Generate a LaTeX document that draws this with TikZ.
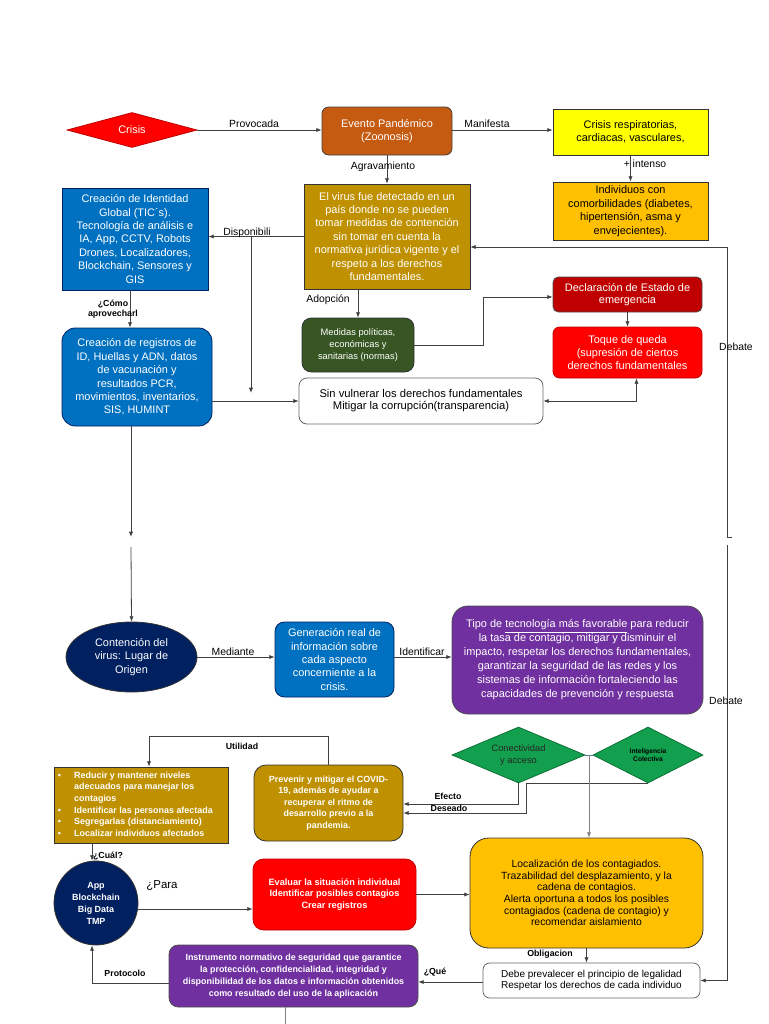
\documentclass[tikz,border=0pt]{standalone}
\usepackage{fontspec}
\setmainfont{Liberation Sans}
\usetikzlibrary{shapes.geometric,arrows.meta,calc}
\definecolor{cRed}{HTML}{FF0000}
\definecolor{cBrown}{HTML}{C55A11}
\definecolor{cYel}{HTML}{FFFF00}
\definecolor{cOra}{HTML}{FFC000}
\definecolor{cGold}{HTML}{BF9000}
\definecolor{cBlue}{HTML}{0070C0}
\definecolor{cGreen}{HTML}{375623}
\definecolor{cDRed}{HTML}{C00000}
\definecolor{cNavy}{HTML}{002060}
\definecolor{cPurp}{HTML}{7030A0}
\definecolor{cDia}{HTML}{12A04E}
\definecolor{cLine}{HTML}{404040}
\newcommand\fsz[2]{\fontsize{#1}{#2}\selectfont}
\begin{document}
\begin{tikzpicture}[x=0.75pt,y=-0.75pt,
  wh/.style 2 args={minimum width={#1*0.75pt},minimum height={#2*0.75pt}},
  box/.style={draw=black!80,line width=0.6pt,inner sep=1pt,align=center,font=\fsz{8.2}{10.1}},
  rbox/.style={box,rounded corners=#1},
  arr/.style={draw=cLine,line width=0.6pt,-{Latex[length=4pt,width=3.2pt]}},
  arrtwo/.style={draw=cLine,line width=0.6pt,{Latex[length=4pt,width=3.2pt]}-{Latex[length=4pt,width=3.2pt]}},
  ln/.style={draw=cLine,line width=0.6pt},
  lbl/.style={font=\fsz{7.8}{9},inner sep=0.5pt,text=black},
  blbl/.style={font=\bfseries\fsz{6.6}{7.6},inner sep=0.5pt,text=black,align=center},
  small/.style={font=\bfseries\fsz{6.7}{8.7}}
]
\useasboundingbox (0,0) rectangle (768,1024);

% ---------- top row ----------
\node[box,shape=diamond,shape aspect=3.7,fill=cRed,draw=cDRed,wh={130}{35},inner sep=0pt,text=white] (crisis) at (132,130) {Crisis};
\node[rbox=5pt,fill=cBrown,draw=black!75,wh={130}{48},text=white] (evento) at (387,131) {Evento Pandémico\\(Zoonosis)};
\node[box,fill=cYel,wh={155}{46}] (yel) at (630.5,132) {Crisis respiratorias,\\cardiacas, vasculares,};
\node[box,fill=cOra,wh={155}{58}] (indiv) at (630.5,211) {Individuos con\\comorbilidades (diabetes,\\hipertensión, asma y\\envejecientes).};
\node[box,fill=cGold,wh={166}{105},text=white] (gold) at (387,236.5) {El virus fue detectado en un\\país donde no se pueden\\tomar medidas de contención\\sin tomar en cuenta la\\normativa jurídica vigente y el\\respeto a los derechos\\fundamentales.};
\node[box,fill=cBlue,draw=cNavy,wh={146}{102},text=white] (blueone) at (135,239) {Creación de Identidad\\Global (TIC´s).\\Tecnología de análisis e\\IA, App, CCTV, Robots\\Drones, Localizadores,\\Blockchain, Sensores y\\GIS};
\node[rbox=10pt,fill=cBlue,draw=cNavy,wh={150}{98},text=white] (bluetwo) at (137,377) {Creación de registros de\\ID, Huellas y ADN, datos\\de vacunación y\\resultados PCR,\\movimientos, inventarios,\\SIS, HUMINT};
\node[rbox=7pt,fill=cGreen,draw=black!80,wh={112}{54},text=white,font=\fsz{7}{9}] (green) at (358,345) {Medidas políticas,\\económicas y\\sanitarias (normas)};
\node[rbox=4pt,fill=cDRed,draw=black!70,wh={149}{35},text=white,font=\fsz{8.2}{9.5}] (decl) at (627.5,294.5) {Declaración de Estado de\\emergencia};
\node[rbox=5pt,fill=cRed,draw=cDRed,wh={149}{51},text=white,font=\fsz{8.2}{9.5}] (toque) at (627.5,352.5) {Toque de queda\\(supresión de ciertos\\derechos fundamentales};
\node[rbox=6pt,fill=white,draw=black!60,wh={244}{46},font=\fsz{8.4}{9}] (sinv) at (421,401) {Sin vulnerar los derechos fundamentales\\Mitigar la corrupción(transparencia)};

% ---------- middle row ----------
\node[box,shape=ellipse,fill=cNavy,draw=black!80,wh={131}{70},text=white,inner sep=0pt] (ell) at (131.5,657) {Contención del\\virus: Lugar de\\Origen};
\node[rbox=7pt,fill=cBlue,draw=cNavy,wh={119}{75},text=white] (bluethree) at (334.5,659.5) {Generación real de\\información sobre\\cada aspecto\\concerniente a la\\crisis.};
\node[rbox=12pt,fill=cPurp,draw=black!70,wh={251}{108},text=white,font=\fsz{8.2}{10.5}] (purpone) at (577.5,660) {Tipo de \underline{tecnología más favorable} para reducir\\la tasa de contagio, mitigar y disminuir el\\impacto, respetar los derechos fundamentales,\\garantizar la seguridad de las redes y los\\sistemas de información fortaleciendo las\\capacidades de prevención y respuesta};

% ---------- lower part ----------
\node[box,fill=cGold,draw=black!80,wh={174}{76}] (list) at (141,805) {};
\node[anchor=west,text=white,small,inner sep=0pt] (listtxt) at (57.5,805) {%
\renewcommand\arraystretch{1}%
\begin{tabular}{@{}l@{\hspace{10pt}}l@{}}
\textbullet & Reducir y mantener niveles\\
 & adecuados para manejar los\\
 & contagios\\
\textbullet & Identificar las personas afectada\\
\textbullet & Segregarlas (distanciamiento)\\
\textbullet & Localizar individuos afectados
\end{tabular}};
\node[rbox=9pt,fill=cGold,draw=black!80,wh={149}{76},text=white,small] (prev) at (328.5,803) {Prevenir y mitigar el COVID-\\19, además de ayudar a\\recuperar el ritmo de\\desarrollo previo a la\\pandemia.};
\node[box,shape=diamond,shape aspect=2.4,fill=cDia,draw=cDia!70!black,wh={133}{56},inner sep=0pt,font=\fsz{7}{8.5},text=black!85] (conect) at (518.5,755) {Conectividad\\y acceso};
\node[box,shape=diamond,shape aspect=2,fill=cDia,draw=cDia!70!black,wh={110}{56},inner sep=0pt,font=\bfseries\fsz{5}{6},text=black] (intel) at (648,755) {Inteligencia\\Colectiva};
\node[rbox=14pt,fill=cOra,draw=black!80,wh={233}{110},font=\fsz{7.8}{8.7}] (local) at (586.5,893) {Localización de los contagiados.\\Trazabilidad del desplazamiento, y la\\cadena de contagios.\\Alerta oportuna a todos los posibles\\contagiados (cadena de contagio) y\\recomendar aislamiento};
\node[rbox=5pt,fill=white,draw=black!60,wh={217}{35},font=\fsz{7.5}{8.4}] (debe) at (591.5,980.5) {Debe prevalecer el principio de legalidad\\Respetar los derechos de cada individuo};
\node[rbox=7pt,fill=cPurp,draw=black!70,wh={249}{62},text=white,font=\bfseries\fsz{6.7}{8.9}] (purptwo) at (293.5,976) {Instrumento normativo de seguridad que garantice\\la protección, confidencialidad, integridad y\\disponibilidad de los datos e información obtenidos\\como resultado del uso de la aplicación};
\node[box,shape=circle,fill=cNavy,draw=black!80,minimum size={84*0.75pt},inner sep=0pt,text=white,font=\bfseries\fsz{6.7}{9}] (circ) at (96,903) {App\\Blockchain\\Big Data\\TMP};
\node[rbox=8pt,fill=cRed,draw=cDRed,wh={163}{71},text=white,font=\bfseries\fsz{6.9}{8.8}] (red) at (334.5,894.5) {Evaluar la situación individual\\Identificar posibles contagios\\Crear registros};

% ---------- coordinates ----------
\coordinate (dispA) at (251,237);
\coordinate (dispB) at (251,393);
\coordinate (dbA) at (727,537);
\coordinate (dbB) at (727,545);
\coordinate (bbA) at (131,537);
\coordinate (bbB) at (131,547);
\coordinate (dj) at (589,755);
\coordinate (pend) at (285,1024);

% ---------- connectors ----------
\draw[arr] (crisis.east) -- (evento.west |- crisis.east);
\draw[arr] (evento.east |- crisis.east) -- (yel.west |- crisis.east);
\draw[arr] (yel.south) -- (indiv.north);
\draw[arr] (evento.south) -- (gold.north);
\draw[arr] (gold.west) -- (gold.west -| blueone.east);
\draw[arr] (dispA) -- (dispB);
\draw[arr] ($(blueone.south)+(-5,0)$) -- ($(bluetwo.north)+(-7,0)$);
\draw[arr] (sinv.west -| bluetwo.east) -- (sinv.west);
\draw[arr] (gold.south -| green.north) -- (green.north);
\draw[arr] (green.east) -- ++(69,0) |- ($(decl.west)+(0,2.5)$);
\draw[arr] (decl.south) -- (toque.north);
\draw[arrtwo] (sinv.east) -| ($(toque.south)+(9,0)$);
\draw[arr] (dbA) |- ($(gold.east)+(0,10.5)$);
\draw[ln] (dbA) -- ++(5,0);
\draw[arr] (dbB) |- (debe.east);
\draw[arr] ($(bluetwo.south)+(-6,0)$) -- (bbA);
\draw[arr] (bbB) -- (ell.north);
\draw[arr] (ell.east) -- (ell.east -| bluethree.west);
\draw[arr] (bluethree.east |- ell.east) -- (purpone.west |- ell.east);
\draw[arr] (prev.north) -- ++(0,-28) -| ($(list.north)+(8,0)$);
\draw[arr] (conect.south) |- ($(prev.east)+(0,1)$);
\draw[arr] (intel.south) -- ++(-122,0) |- ($(prev.east)+(0,10)$);
\draw[ln,draw=cBlue!40!gray] (conect.east) -- (intel.west);
\draw[arr,draw=gray] (dj) -- (local.north -| dj);
\draw[arr] (local.south) -- (local.south |- debe.north);
\draw[arr] (debe.west |- 0,982) -- (purptwo.east |- 0,982);
\draw[arr] ($(purptwo.west)+(0,7)$) -| ($(circ.south)+(-4,0)$);
\draw[ln,draw=gray] (purptwo.south -| pend) -- (pend);
\draw[arr] ($(list.south)+(-49,0)$) -- ($(circ.north)+(-4,0)$);
\draw[arr] ($(circ.east)+(0,6)$) -- ($(red.west)+(0,14.5)$);
\draw[arr] (red.east) -- (red.east -| local.west);

% ---------- labels ----------
\node[lbl] (lProv) at (254,124) {Provocada};
\node[lbl] (lMan) at (487,124) {Manifesta};
\node[lbl] (lInt) at (645,164) {+ intenso};
\node[lbl] (lAgr) at (383,167) {Agravamiento};
\node[lbl] (lDis) at (247,233) {Disponibili};
\node[blbl] (lCom) at (113,309) {¿Cómo\\aprovecharl};
\node[lbl] (lAdo) at (328,300) {Adopción};
\node[lbl] (lDebA) at (736,347) {Debate};
\node[lbl] (lDebB) at (726,701) {Debate};
\node[lbl] (lMed) at (233,652) {Mediante};
\node[lbl] (lIde) at (422,652) {Identificar};
\node[blbl] (lUti) at (242,746) {Utilidad};
\node[blbl] (lEfe) at (448,796) {Efecto};
\node[blbl] (lDes) at (449,808) {Deseado};
\node[blbl] (lCua) at (108,856) {¿Cuál?};
\node[lbl,font=\fsz{8.6}{9}] (lPar) at (162,886) {¿Para};
\node[blbl] (lObl) at (550,954) {Obligacion};
\node[blbl] (lQue) at (435,972) {¿Qué};
\node[blbl] (lPro) at (125,973) {Protocolo};
\end{tikzpicture}
\end{document}
